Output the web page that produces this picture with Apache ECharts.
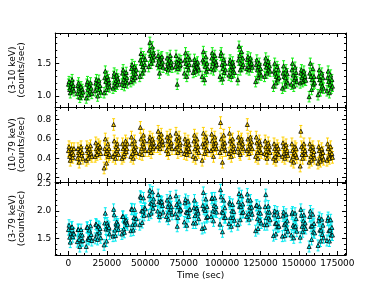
<!DOCTYPE html>
<html><head><meta charset="utf-8">
<script src="https://cdn.jsdelivr.net/npm/echarts@6/dist/echarts.min.js"></script>
<style>html,body{margin:0;padding:0;background:#fff}#c{width:384px;height:288px}</style>
</head><body><div id="c"></div>
<script>
// Orbit (cluster) start times in seconds and offsets of bins inside each cluster
const clusterStart = [0,5800,11600,17400,23200,29000,34800,40600,46400,52200,58000,63800,69600,75400,81200,87000,92800,98600,104400,110200,116000,121800,127600,133400,139200,145000,150800,156600,162400,168200];
const binOffsets = [0,400,800,1200,1600,2000,2400,2800,3200,3600];

// 3-10 keV count rates
const rateSoft = [
[1.18,1.22,1.10,1.05,1.14,1.20,1.25,1.12,1.16,1.08],
[1.04,1.16,1.20,1.12,0.98,1.08,1.14,1.02,1.10,1.06],
[0.97,1.18,1.22,1.10,1.02,1.15,1.08,1.20,1.12,1.04],
[1.08,1.20,1.25,1.14,1.00,1.18,1.24,1.10,1.16,1.06],
[1.05,1.28,1.38,1.22,1.10,1.30,1.18,1.25,1.20,1.14],
[1.12,1.30,1.35,1.20,1.15,1.24,1.32,1.18,1.26,1.22],
[1.18,1.35,1.40,1.25,1.16,1.30,1.22,1.36,1.28,1.20],
[1.22,1.42,1.48,1.30,1.25,1.38,1.45,1.28,1.34,1.40],
[1.30,1.55,1.65,1.50,1.35,1.45,1.60,1.40,1.48,1.56],
[1.45,1.70,1.82,1.62,1.50,1.58,1.75,1.55,1.66,1.60],
[1.48,1.62,1.55,1.35,1.45,1.58,1.50,1.60,1.52,1.44],
[1.42,1.58,1.50,1.40,1.46,1.55,1.62,1.48,1.52,1.44],
[1.45,1.62,1.52,1.18,1.42,1.50,1.56,1.46,1.48,1.54],
[1.35,1.55,1.66,1.50,1.30,1.45,1.60,1.40,1.48,1.56],
[1.36,1.48,1.56,1.42,1.38,1.50,1.45,1.52,1.44,1.40],
[1.30,1.55,1.68,1.52,1.25,1.45,1.60,1.38,1.50,1.42],
[1.42,1.58,1.66,1.50,1.40,1.55,1.62,1.46,1.52,1.48],
[1.30,1.62,1.66,1.48,1.26,1.42,1.56,1.36,1.50,1.40],
[1.32,1.50,1.55,1.40,1.30,1.45,1.52,1.38,1.46,1.36],
[1.25,1.55,1.76,1.62,1.40,1.50,1.68,1.45,1.58,1.48],
[1.42,1.56,1.60,1.45,1.40,1.52,1.58,1.48,1.50,1.44],
[1.22,1.48,1.55,1.40,1.28,1.45,1.50,1.35,1.42,1.32],
[1.30,1.50,1.58,1.44,1.35,1.48,1.53,1.40,1.46,1.38],
[1.15,1.38,1.50,1.35,1.20,1.30,1.45,1.26,1.40,1.28],
[1.12,1.35,1.46,1.30,1.15,1.28,1.40,1.22,1.34,1.20],
[1.18,1.40,1.50,1.32,1.15,1.25,1.44,1.28,1.36,1.22],
[1.20,1.35,1.40,1.28,1.22,1.32,1.38,1.25,1.30,1.24],
[0.99,1.35,1.50,1.30,1.10,1.25,1.42,1.18,1.30,1.20],
[1.02,1.30,1.40,1.25,1.08,1.20,1.35,1.15,1.28,1.12],
[1.08,1.28,1.38,1.22,1.05,1.18,1.32,1.12,1.25,1.15]];

// 10-79 keV count rates
const rateHard = [
[0.48,0.52,0.42,0.38,0.45,0.50,0.46,0.41,0.44,0.50],
[0.40,0.50,0.46,0.36,0.44,0.48,0.52,0.43,0.46,0.40],
[0.38,0.52,0.48,0.40,0.46,0.50,0.44,0.53,0.45,0.42],
[0.42,0.56,0.50,0.44,0.48,0.54,0.47,0.51,0.52,0.45],
[0.30,0.50,0.60,0.45,0.35,0.48,0.55,0.42,0.50,0.44],
[0.42,0.75,0.58,0.45,0.40,0.52,0.48,0.55,0.50,0.44],
[0.40,0.55,0.50,0.42,0.45,0.52,0.58,0.47,0.50,0.55],
[0.42,0.62,0.55,0.45,0.40,0.50,0.58,0.48,0.52,0.46],
[0.45,0.72,0.60,0.50,0.44,0.55,0.64,0.52,0.58,0.48],
[0.48,0.58,0.62,0.52,0.46,0.55,0.60,0.50,0.56,0.52],
[0.52,0.68,0.62,0.55,0.50,0.60,0.65,0.57,0.58,0.54],
[0.48,0.62,0.58,0.45,0.52,0.58,0.64,0.55,0.56,0.50],
[0.50,0.66,0.60,0.52,0.46,0.58,0.62,0.54,0.56,0.48],
[0.45,0.60,0.55,0.48,0.44,0.52,0.58,0.50,0.54,0.47],
[0.42,0.58,0.64,0.50,0.40,0.55,0.60,0.48,0.52,0.46],
[0.38,0.55,0.66,0.52,0.45,0.56,0.62,0.50,0.58,0.48],
[0.48,0.65,0.58,0.50,0.42,0.55,0.62,0.53,0.56,0.50],
[0.46,0.77,0.60,0.50,0.36,0.55,0.64,0.52,0.56,0.48],
[0.45,0.66,0.58,0.48,0.42,0.55,0.60,0.50,0.53,0.47],
[0.50,0.62,0.56,0.46,0.44,0.58,0.60,0.52,0.55,0.50],
[0.48,0.75,0.60,0.50,0.45,0.55,0.62,0.52,0.57,0.50],
[0.42,0.62,0.56,0.46,0.40,0.52,0.58,0.48,0.54,0.46],
[0.45,0.58,0.52,0.44,0.40,0.50,0.56,0.47,0.52,0.46],
[0.40,0.55,0.50,0.42,0.38,0.48,0.53,0.45,0.50,0.44],
[0.42,0.56,0.52,0.45,0.40,0.50,0.54,0.46,0.48,0.43],
[0.38,0.55,0.48,0.42,0.36,0.46,0.52,0.44,0.50,0.41],
[0.32,0.68,0.52,0.44,0.40,0.50,0.55,0.46,0.48,0.44],
[0.36,0.55,0.50,0.42,0.38,0.48,0.52,0.44,0.47,0.40],
[0.35,0.52,0.48,0.40,0.37,0.45,0.50,0.42,0.46,0.39],
[0.38,0.55,0.50,0.42,0.40,0.47,0.52,0.44,0.45,0.41]];

// 3-79 keV count rates
const rateFull = [
[1.66,1.74,1.52,1.43,1.59,1.70,1.71,1.53,1.60,1.58],
[1.44,1.66,1.66,1.48,1.35,1.56,1.66,1.45,1.56,1.46],
[1.35,1.70,1.70,1.50,1.48,1.65,1.52,1.73,1.57,1.46],
[1.50,1.76,1.75,1.58,1.48,1.72,1.71,1.61,1.68,1.51],
[1.38,1.78,1.96,1.67,1.45,1.78,1.73,1.67,1.70,1.58],
[1.54,2.03,1.93,1.65,1.55,1.76,1.80,1.73,1.76,1.66],
[1.58,1.90,1.90,1.67,1.61,1.82,1.80,1.83,1.78,1.75],
[1.64,2.04,2.03,1.75,1.65,1.88,2.03,1.76,1.86,1.86],
[1.75,2.27,2.25,2.00,1.79,2.00,2.24,1.92,2.06,2.04],
[1.93,2.28,2.38,2.14,1.96,2.13,2.35,2.05,2.22,2.12],
[2.00,2.30,2.17,1.90,1.95,2.18,2.15,2.17,2.10,1.98],
[1.90,2.20,2.08,1.85,1.98,2.13,2.26,2.03,2.08,1.94],
[1.95,2.28,2.12,1.72,1.88,2.08,2.18,2.00,2.04,2.02],
[1.80,2.15,2.21,1.98,1.74,1.97,2.18,1.90,2.02,2.03],
[1.78,2.06,2.20,1.92,1.78,2.05,2.05,2.00,1.96,1.86],
[1.68,2.10,2.34,2.04,1.70,2.01,2.22,1.88,2.08,1.90],
[1.90,2.23,2.24,2.00,1.82,2.10,2.24,1.99,2.08,1.98],
[1.76,2.39,2.26,1.98,1.62,1.97,2.20,1.88,2.06,1.88],
[1.77,2.16,2.13,1.88,1.72,2.00,2.12,1.88,1.99,1.83],
[1.75,2.17,2.32,2.08,1.84,2.08,2.28,1.97,2.13,1.98],
[1.90,2.31,2.20,1.95,1.85,2.07,2.20,2.00,2.07,1.94],
[1.64,2.10,2.11,1.86,1.68,1.97,2.08,1.83,1.96,1.78],
[1.75,2.08,2.30,1.88,1.75,1.98,2.09,1.87,1.98,1.84],
[1.55,1.93,2.00,1.77,1.58,1.78,1.98,1.71,1.90,1.72],
[1.54,1.91,1.98,1.75,1.55,1.78,1.94,1.68,1.82,1.63],
[1.56,1.95,1.98,1.74,1.51,1.71,1.96,1.72,1.86,1.63],
[1.52,2.03,1.92,1.72,1.62,1.82,1.93,1.71,1.78,1.68],
[1.35,1.90,2.00,1.72,1.48,1.73,1.94,1.62,1.77,1.60],
[1.37,1.82,1.88,1.65,1.45,1.65,1.85,1.57,1.74,1.51],
[1.46,1.83,1.88,1.64,1.45,1.65,1.84,1.56,1.70,1.56]];

const errSoft = 0.08, errHard = 0.06, errFull = 0.10;

const panelNames = ['(3-10 keV)\n(counts/sec)', '(10-79 keV)\n(counts/sec)', '(3-79 keV)\n(counts/sec)'];
const xMajorTicks = [0,25000,50000,75000,100000,125000,150000,175000];
const xMinorTicks = [-5000,0,5000,10000,15000,20000,25000,30000,35000,40000,45000,50000,55000,60000,65000,70000,75000,80000,85000,90000,95000,100000,105000,110000,115000,120000,125000,130000,135000,140000,145000,150000,155000,160000,165000,170000,175000,180000];
const yMajorTicks = [[1.0,1.5],[0.2,0.4,0.6,0.8],[1.5,2.0,2.5]];
const yMinorTicks = [
  [0.9,1.0,1.1,1.2,1.3,1.4,1.5,1.6,1.7,1.8,1.9],
  [0.2,0.25,0.3,0.35,0.4,0.45,0.5,0.55,0.6,0.65,0.7,0.75,0.8,0.85,0.9],
  [1.2,1.3,1.4,1.5,1.6,1.7,1.8,1.9,2.0,2.1,2.2,2.3,2.4,2.5]];
const yRanges = [[0.832,1.964],[0.155,0.931],[1.195,2.531]];
const colors = ['#10f010','#ffd000','#00eaf0'];
const xRange = [-8600, 180600];

const grids = [
  {left:48, width:298, top:33, height:74},
  {left:48, width:298, top:107, height:75},
  {left:48, width:298, top:182, height:73}
];
const FONT = 'DejaVu Sans';
const xAxes = [], yAxes = [], series = [];
const rates = [rateSoft, rateHard, rateFull];
const errs = [errSoft, errHard, errFull];

for (let g = 0; g < 3; g++) {
  const mkX = (pos, ticks, len, showLine, labels) => ({
    type:'value', gridIndex:g, position:pos, min:xRange[0], max:xRange[1],
    axisLine:{show:showLine, onZero:false, lineStyle:{color:'#000', width:1}},
    axisTick:{show:true, inside:true, length:len, customValues:ticks, lineStyle:{color:'#000', width:1}},
    axisLabel:labels ? {show:true, customValues:xMajorTicks, margin:4, color:'#000', fontSize:9, fontFamily:FONT,
      formatter:v => String(Math.round(v))} : {show:false},
    splitLine:{show:false},
    name: labels ? 'Time (sec)' : '', nameLocation:'middle', nameGap:16,
    nameTextStyle:{color:'#000', fontSize:9, fontFamily:FONT}
  });
  xAxes.push(mkX('bottom', xMajorTicks, 4, true, g === 2));
  xAxes.push(mkX('bottom', xMinorTicks, 2, false, false));
  xAxes.push(mkX('top', xMajorTicks, 4, true, false));
  xAxes.push(mkX('top', xMinorTicks, 2, false, false));
  const mkY = (pos, ticks, len, showLine, labels) => ({
    type:'value', gridIndex:g, position:pos, min:yRanges[g][0], max:yRanges[g][1],
    axisLine:{show:showLine, onZero:false, lineStyle:{color:'#000', width:1}},
    axisTick:{show:true, inside:true, length:len, customValues:ticks, lineStyle:{color:'#000', width:1}},
    axisLabel:labels ? {show:true, customValues:yMajorTicks[g], margin:4, color:'#000', fontSize:9, fontFamily:FONT,
      formatter:v => Number(v).toFixed(1)} : {show:false},
    splitLine:{show:false},
    name: labels ? panelNames[g] : '', nameLocation:'middle', nameRotate:90, nameGap:18,
    nameTextStyle:{color:'#000', fontSize:9, fontFamily:FONT, lineHeight:9, align:'center'}
  });
  yAxes.push(mkY('left', yMajorTicks[g], 4, true, true));
  yAxes.push(mkY('left', yMinorTicks[g], 2, false, false));
  yAxes.push(mkY('right', yMajorTicks[g], 4, true, false));
  yAxes.push(mkY('right', yMinorTicks[g], 2, false, false));

  const pts = [];
  rates[g].forEach((row, i) => row.forEach((v, j) => {
    pts.push([clusterStart[i] + binOffsets[j], v, errs[g]]);
  }));
  const col = colors[g];
  series.push({
    type:'custom', xAxisIndex:4*g, yAxisIndex:4*g, data:pts, clip:true, silent:true,
    renderItem:(params, api) => {
      const x = api.value(0), y = api.value(1), e = api.value(2);
      const a = api.coord([x, y + e]), b = api.coord([x, y - e]);
      const cw = 1.5;
      const st = {stroke:col, lineWidth:1};
      return {type:'group', children:[
        {type:'line', shape:{x1:a[0], y1:a[1], x2:b[0], y2:b[1]}, style:st},
        {type:'line', shape:{x1:a[0]-cw, y1:a[1], x2:a[0]+cw, y2:a[1]}, style:st},
        {type:'line', shape:{x1:b[0]-cw, y1:b[1], x2:b[0]+cw, y2:b[1]}, style:st}
      ]};
    }
  });
  series.push({
    type:'scatter', xAxisIndex:4*g, yAxisIndex:4*g, silent:true,
    data:pts.map(p => [p[0], p[1]]), symbol:'triangle', symbolSize:4,
    itemStyle:{color:col, borderColor:'#000', borderWidth:0.8, opacity:1}
  });
}

const chart = echarts.init(document.getElementById('c'), null, {renderer:'canvas'});
chart.setOption({
  animation:false, backgroundColor:'#fff',
  grid:grids, xAxis:xAxes, yAxis:yAxes, series:series
});
</script></body></html>
